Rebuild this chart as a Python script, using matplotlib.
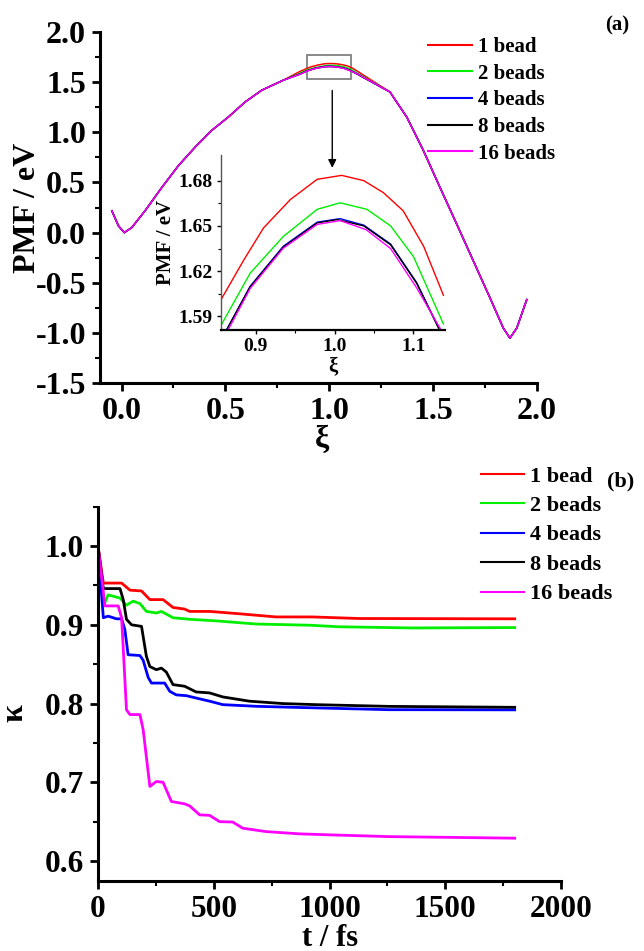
import numpy as np
import matplotlib.pyplot as plt
from matplotlib.patches import Rectangle
from matplotlib.ticker import MultipleLocator, FixedLocator, FormatStrFormatter

plt.rcParams['font.family'] = ['Liberation Serif', 'DejaVu Serif']
plt.rcParams['font.weight'] = 'bold'
plt.rcParams['axes.labelweight'] = 'bold'

# --- DATA ---
labels = ['1 bead', '2 beads', '4 beads', '8 beads', '16 beads']
colors = ['#ff0000', '#00ee00', '#0000ff', '#000000', '#ff00ff']

# PMF branches shared by all bead numbers (curves overlap there)
xi_left = [-0.047, -0.015, 0.013, 0.049, 0.113, 0.194, 0.274, 0.354, 0.434,
           0.514, 0.595, 0.675, 0.779]
pmf_left = [0.217, 0.067, 0.0, 0.05, 0.217, 0.45, 0.667, 0.85, 1.017,
            1.15, 1.30, 1.417, 1.517]
xi_right = [1.293, 1.374, 1.454, 1.534, 1.615, 1.695, 1.775, 1.839, 1.871,
            1.904, 1.952]
pmf_right = [1.40, 1.15, 0.817, 0.45, 0.083, -0.283, -0.65, -0.95, -1.05,
             -0.95, -0.667]

# barrier top for each bead number
xi_top_1 = [0.857, 0.885, 0.91, 0.944, 0.978, 1.009, 1.037, 1.062, 1.087, 1.113, 1.138]
pmf_top_1 = [1.602, 1.6275, 1.6487, 1.6675, 1.6809, 1.6835, 1.680, 1.672, 1.660, 1.6364, 1.604]
xi_top_2 = [0.857, 0.893, 0.935, 0.978, 1.007, 1.041, 1.071, 1.10, 1.138]
pmf_top_2 = [1.585, 1.6187, 1.643, 1.661, 1.6653, 1.661, 1.650, 1.6297, 1.585]
xi_top_4 = [0.863, 0.893, 0.935, 0.978, 1.007, 1.037, 1.071, 1.104, 1.132]
pmf_top_4 = [1.581, 1.610, 1.6365, 1.6525, 1.6548, 1.6505, 1.638, 1.6125, 1.5825]
xi_top_8 = [0.863, 0.893, 0.935, 0.978, 1.003, 1.037, 1.071, 1.104, 1.132]
pmf_top_8 = [1.581, 1.6097, 1.636, 1.652, 1.6542, 1.650, 1.6375, 1.612, 1.582]
xi_top_16 = [0.865, 0.893, 0.935, 0.978, 1.007, 1.04, 1.071, 1.104, 1.135]
pmf_top_16 = [1.581, 1.6085, 1.6352, 1.651, 1.6535, 1.6475, 1.635, 1.609, 1.581]

# transmission coefficient kappa(t)
t_1 = [0, 23, 102, 138, 188, 224, 281, 324, 374, 396, 482, 611, 769, 926, 1127, 1800]
k_1 = [1.0, 0.953, 0.953, 0.944, 0.943, 0.932, 0.932, 0.922, 0.920, 0.917, 0.917,
       0.914, 0.910, 0.910, 0.908, 0.9076]
t_2 = [0, 23, 44, 95, 123, 152, 181, 209, 252, 274, 324, 396, 510, 683, 912, 1041, 1356, 1800]
k_2 = [1.0, 0.924, 0.938, 0.934, 0.925, 0.930, 0.927, 0.917, 0.915, 0.917, 0.909,
       0.907, 0.905, 0.901, 0.8995, 0.8975, 0.896, 0.8965]
t_4 = [0, 23, 44, 80, 102, 116, 130, 181, 195, 217, 231, 288, 310, 338, 381, 424,
       482, 539, 683, 869, 1256, 1800]
k_4 = [1.0, 0.909, 0.911, 0.9076, 0.9076, 0.894, 0.862, 0.861, 0.855, 0.833, 0.826,
       0.826, 0.8155, 0.811, 0.810, 0.807, 0.803, 0.7986, 0.7965, 0.795, 0.7922, 0.792]
t_8 = [0, 23, 95, 109, 123, 145, 188, 209, 224, 252, 274, 295, 324, 374, 424, 482,
       539, 654, 797, 941, 1256, 1800]
k_8 = [1.0, 0.946, 0.946, 0.932, 0.907, 0.900, 0.898, 0.860, 0.847, 0.843, 0.845,
       0.840, 0.824, 0.822, 0.8147, 0.8135, 0.8084, 0.803, 0.800, 0.7986, 0.7964, 0.7952]
t_16 = [0, 30, 87, 102, 123, 138, 181, 195, 224, 252, 281, 317, 374, 396, 439, 482,
        525, 582, 625, 725, 869, 1026, 1256, 1800]
k_16 = [1.0, 0.924, 0.924, 0.909, 0.792, 0.786, 0.786, 0.767, 0.6947, 0.701, 0.700,
        0.6756, 0.6726, 0.670, 0.6586, 0.658, 0.650, 0.6495, 0.6417, 0.6374, 0.6345,
        0.633, 0.631, 0.629]

xi_tops = [xi_top_1, xi_top_2, xi_top_4, xi_top_8, xi_top_16]
pmf_tops = [pmf_top_1, pmf_top_2, pmf_top_4, pmf_top_8, pmf_top_16]
t_all = [t_1, t_2, t_4, t_8, t_16]
k_all = [k_1, k_2, k_4, k_8, k_16]

W, H = 644, 951
fig = plt.figure(figsize=(W / 100, H / 100), dpi=100)


def style_axes(ax, lw=2.2):
    for s in ['top', 'right']:
        ax.spines[s].set_visible(False)
    for s in ['left', 'bottom']:
        ax.spines[s].set_linewidth(lw)
    ax.tick_params(which='major', direction='out', length=6, width=2)
    ax.tick_params(which='minor', direction='out', length=3.5, width=1.5)


# --- (a) PMF ---
ax1 = fig.add_axes([100 / W, 1 - 383.3 / H, 436.7 / W, 351.6 / H])
for i in range(5):
    xs = xi_left + xi_tops[i] + xi_right
    ys = pmf_left + pmf_tops[i] + pmf_right
    ax1.plot(xs, ys, color=colors[i], lw=1.1, label=labels[i])
ax1.set_xlim(-0.104, 2.0)
ax1.set_ylim(-1.5, 2.0)
ax1.xaxis.set_major_locator(MultipleLocator(0.5))
ax1.xaxis.set_minor_locator(MultipleLocator(0.25))
ax1.yaxis.set_major_locator(MultipleLocator(0.5))
ax1.yaxis.set_minor_locator(MultipleLocator(0.25))
ax1.xaxis.set_major_formatter(FormatStrFormatter('%.1f'))
ax1.yaxis.set_major_formatter(FormatStrFormatter('%.1f'))
style_axes(ax1)
ax1.tick_params(labelsize=23, pad=4)
ax1.set_ylabel('PMF / eV', fontsize=23)
ax1.set_xlabel('ξ', fontsize=23)
ax1.yaxis.set_label_coords(-0.133, 0.5)
ax1.xaxis.set_label_coords(0.508, -0.118)

ax1.add_patch(Rectangle((0.892, 1.534), 0.212, 0.233, fill=False,
                        edgecolor='#808080', lw=1.3))
ax1.annotate('', xy=(1.015, 0.617), xytext=(1.015, 1.443),
             arrowprops=dict(arrowstyle='-|>', color='black', lw=1.0,
                             mutation_scale=12))

leg1 = ax1.legend(loc='upper left', bbox_to_anchor=(428 / W, 1 - 37 / H),
                  bbox_transform=fig.transFigure, frameon=False, fontsize=15,
                  handlelength=2.1, handletextpad=0.3, labelspacing=0.32,
                  borderpad=0, borderaxespad=0)
for l in leg1.get_lines():
    l.set_linewidth(1.5)

# inset
axi = fig.add_axes([221 / W, 1 - 330 / H, 224 / W, 175 / H])
for i in range(5):
    axi.plot(xi_tops[i], pmf_tops[i], color=colors[i], lw=1.0)
axi.set_xlim(0.856, 1.14)
axi.set_ylim(1.581, 1.697)
axi.xaxis.set_major_locator(FixedLocator([0.9, 1.0, 1.1]))
axi.xaxis.set_minor_locator(FixedLocator([0.95, 1.05]))
axi.yaxis.set_major_locator(FixedLocator([1.59, 1.62, 1.65, 1.68]))
axi.yaxis.set_minor_locator(FixedLocator([1.605, 1.635, 1.665]))
axi.xaxis.set_major_formatter(FormatStrFormatter('%.1f'))
axi.yaxis.set_major_formatter(FormatStrFormatter('%.2f'))
for s in ['top', 'right']:
    axi.spines[s].set_visible(False)
axi.spines['left'].set_linewidth(1.0)
axi.spines['left'].set_color('#555555')
axi.spines['bottom'].set_linewidth(1.6)
axi.tick_params(which='major', direction='out', length=3, width=1, labelsize=14, pad=3)
axi.tick_params(which='minor', direction='out', length=2, width=0.8)
axi.set_ylabel('PMF / eV', fontsize=15, labelpad=2)
axi.set_xlabel('ξ', fontsize=15, labelpad=1)
axi.patch.set_alpha(0)

fig.text(616.7 / W, 1 - 25 / H, '(a)', fontsize=15, ha='center', va='center')

# --- (b) kappa ---
ax2 = fig.add_axes([98 / W, 1 - 880.7 / H, 463 / W, 374 / H])
for i in range(5):
    ax2.plot(t_all[i], k_all[i], color=colors[i], lw=2.0, label=labels[i])
ax2.set_xlim(0, 2000)
ax2.set_ylim(0.575, 1.05)
ax2.xaxis.set_major_locator(MultipleLocator(500))
ax2.xaxis.set_minor_locator(MultipleLocator(250))
ax2.yaxis.set_major_locator(MultipleLocator(0.1))
ax2.yaxis.set_minor_locator(MultipleLocator(0.05))
ax2.yaxis.set_major_formatter(FormatStrFormatter('%.1f'))
style_axes(ax2)
ax2.tick_params(labelsize=22.5, pad=4)
ax2.set_ylabel('κ', fontsize=23)
ax2.set_xlabel('t / fs', fontsize=22)
ax2.yaxis.set_label_coords(-0.148, 0.448)
ax2.xaxis.set_label_coords(0.501, -0.115)

leg2 = ax2.legend(loc='upper left', bbox_to_anchor=(481 / W, 1 - 466 / H),
                  bbox_transform=fig.transFigure, frameon=False, fontsize=16,
                  handlelength=1.95, handletextpad=0.27, labelspacing=0.4,
                  borderpad=0, borderaxespad=0)
for l in leg2.get_lines():
    l.set_linewidth(1.5)

fig.text(621 / W, 1 - 481 / H, '(b)', fontsize=16, ha='center', va='center')

fig.savefig('out.png', dpi=100)
